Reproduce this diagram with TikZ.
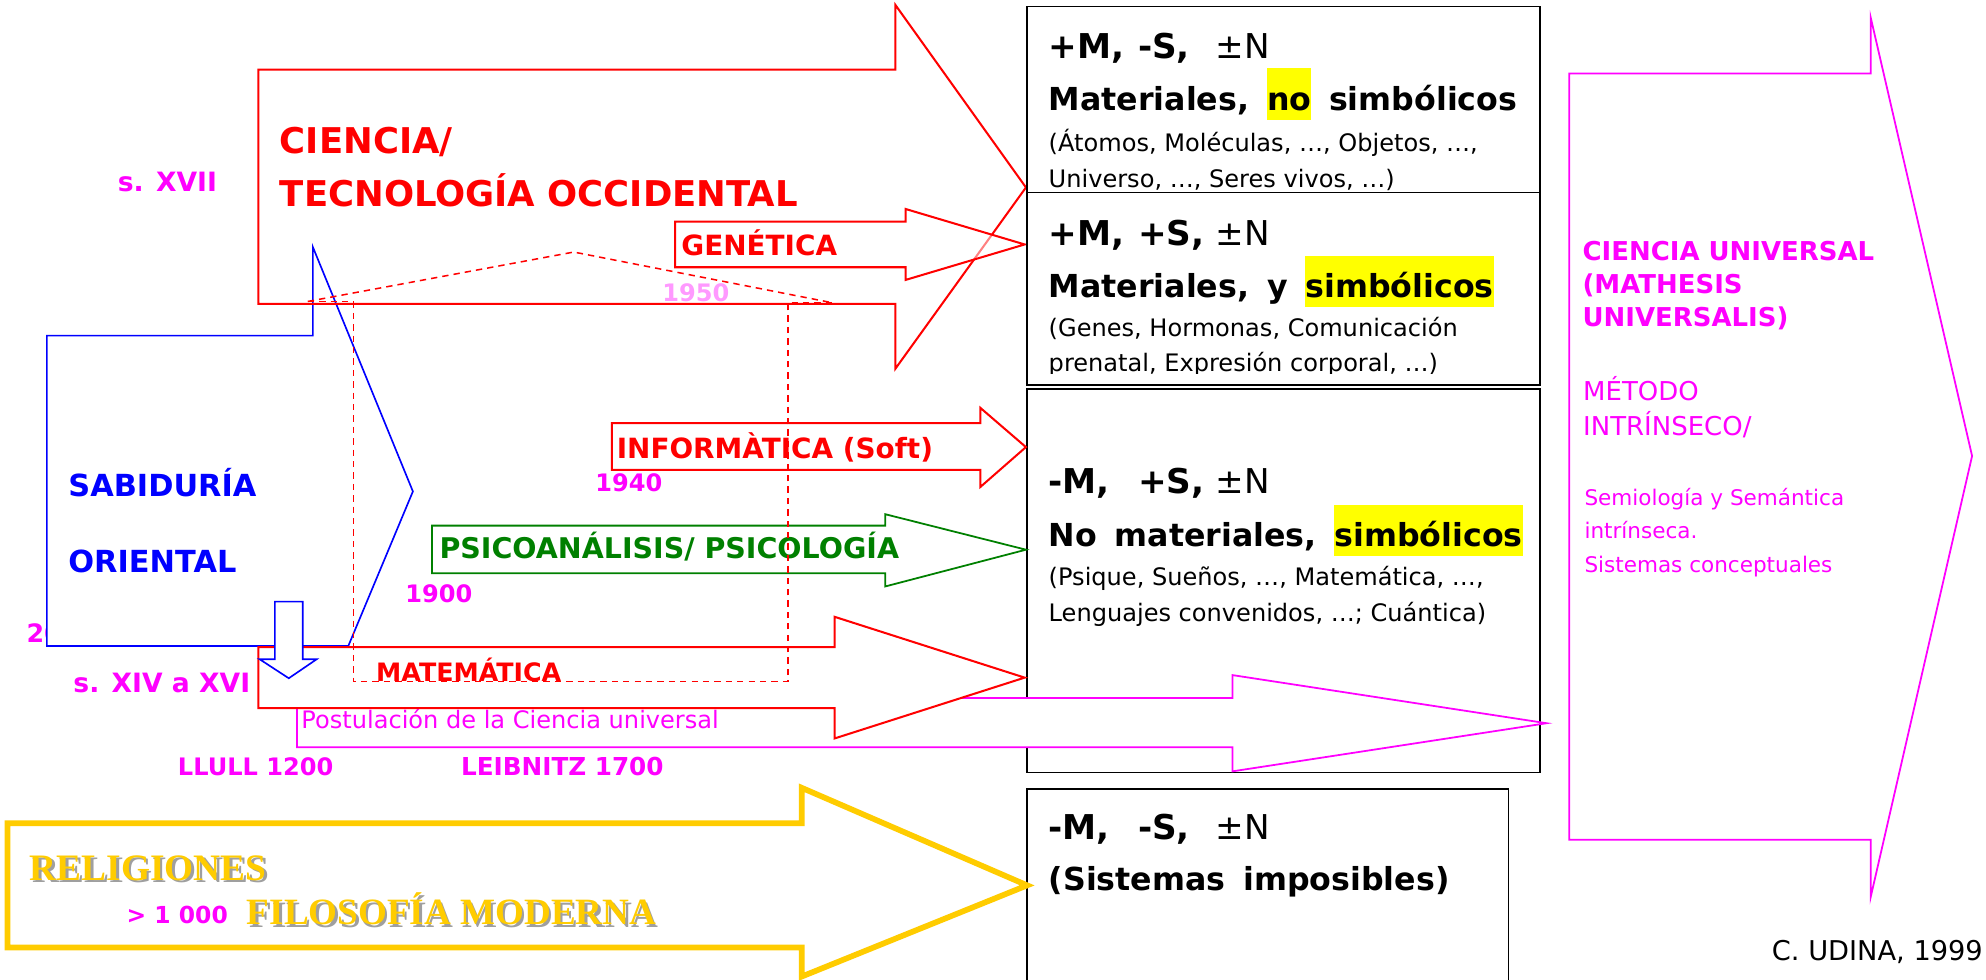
\documentclass[tikz,border=0pt]{standalone}
\usepackage{fontspec}
\setmainfont{DejaVu Sans}
\newfontfamily\relfont{Liberation Serif}
\definecolor{myred}{HTML}{FF0000}
\definecolor{myblue}{HTML}{0000FF}
\definecolor{mymag}{HTML}{FF00FF}
\definecolor{mygreen}{HTML}{008000}
\definecolor{myyellow}{HTML}{FFCC00}
\definecolor{hl}{HTML}{FFFF00}
\definecolor{pinkish}{HTML}{FF99FF}
\newcommand{\fs}[1]{\fontsize{#1}{#1}\selectfont}
% block arrow: body left, head base x, tip x, body top, body bottom, head top, head bottom, tip y
\newcommand{\barrow}[9][]{\draw[#1] (#2,#5)--(#3,#5)--(#3,#7)--(#4,#9)--(#3,#8)--(#3,#6)--(#2,#6)--cycle;}
\newcommand{\hlw}[1]{{\setlength{\fboxsep}{0pt}\colorbox{hl}{\rule[-7.5pt]{0pt}{40.5pt}#1}}}
\newcommand{\mline}[3]{\makebox[70.5pt][l]{\bfseries #1}\makebox[61.5pt][l]{\bfseries #2}#3}
\tikzset{
  lbl/.style={anchor=base west, inner sep=0pt, outer sep=0pt},
  redline/.style={draw=myred, line width=1.6pt},
  blueline/.style={draw=myblue, line width=1.3pt},
  magline/.style={draw=mymag, line width=1.4pt},
  greenline/.style={draw=mygreen, line width=1.4pt},
  yelline/.style={draw=myyellow, line width=4.5pt},
  boxline/.style={draw=black, line width=1.3pt, fill=white},
  dashline/.style={draw=myred, line width=1.2pt, dash pattern=on 5pt off 4pt},
  big/.style={font=\fs{27}},
  mid/.style={font=\fs{25}\bfseries},
  small/.style={font=\fs{19}}
}
\begin{document}
\begin{tikzpicture}[x=1pt,y=-1pt]
\useasboundingbox (0,0) rectangle (1568,773);
\fill[white] (0,0) rectangle (1568,773);

% partly hidden year under the blue arrow
\node[lbl, text=mymag, font=\fs{20}\bfseries] (y20) at (21,507) {20};

% Sabiduria oriental (blue)
\draw[blueline, fill=white] (37,265)--(247,265)--(247,195)--(326,388)--(275,510)--(37,510)--cycle;
\node[lbl, text=myblue, font=\fs{24}\bfseries] (sab) at (54,392) {SABIDURÍA};
\node[lbl, text=myblue, font=\fs{24}\bfseries] (ori) at (54,452) {ORIENTAL};

% Ciencia / tecnologia occidental
\barrow[redline]{204}{707}{810}{55}{240}{4}{291}{148}
\node[lbl, text=myred, font=\fs{28}\bfseries] (cien) at (221,121) {CIENCIA/};
\node[lbl, text=myred, font=\fs{28}\bfseries] (tec) at (221,163) {TECNOLOGÍA OCCIDENTAL};
\node[lbl, text=mymag, font=\fs{21}\bfseries] (s17) at (93,151) {s. XVII};

% Genetica
\barrow[redline, fill=white, fill opacity=0.5]{533}{715}{809}{175}{211}{165}{221}{193}
\node[lbl, text=myred, font=\fs{22}\bfseries] (gen) at (538,202) {GENÉTICA};
\node[lbl, text=pinkish, font=\fs{19}\bfseries] (y1950) at (523,238) {1950};

% boxes
\draw[boxline] (811,5) rectangle (1216,152);
\node[lbl, big] (b1a) at (828,46) {\mline{+M,}{-S,}{±N}};
\node[lbl, mid] (b1b) at (828,87) {Materiales,\hspace{14pt}\hlw{no}\hspace{14pt}simbólicos};
\node[lbl, small] (b1c) at (828,120) {(Átomos, Moléculas, …, Objetos, …,};
\node[lbl, small] (b1d) at (828,148) {Universo, …, Seres vivos, …)};

\draw[boxline] (811,152) rectangle (1216,304);
\node[lbl, big] (b2a) at (828,194) {\mline{+M,}{+S,}{±N}};
\node[lbl, mid] (b2b) at (828,235) {Materiales,\hspace{14pt}y\hspace{14pt}\hlw{simbólicos}};
\node[lbl, small] (b2c) at (828,266) {(Genes, Hormonas, Comunicación};
\begin{scope}
\clip (811,152) rectangle (1216,295);
\node[lbl, small] (b2d) at (828,293.5) {prenatal, Expresión corporal, …)};
\end{scope}

\draw[boxline] (811,307) rectangle (1216,610);
\node[lbl, big] (b3a) at (828,390) {\mline{-M,}{+S,}{±N}};
\node[lbl, mid] (b3b) at (828,431.7) {No\hspace{14pt}materiales,\hspace{14pt}\hlw{simbólicos}};
\node[lbl, small] (b3c) at (828,462.6) {(Psique, Sueños, …, Matemática, …,};
\node[lbl, small] (b3d) at (828,491) {Lenguajes convenidos, …; Cuántica)};

\fill[white] (811,623) rectangle (1191,773);
\draw[draw=black, line width=1.3pt] (811,780)--(811,623)--(1191,623)--(1191,780);
\node[lbl, big] (b4a) at (828,663) {\mline{-M,}{-S,}{±N}};
\node[lbl, mid] (b4b) at (828,703) {(Sistemas\hspace{14pt}imposibles)};

% Postulacion de la Ciencia universal (magenta)
\barrow[magline, fill=white]{234.5}{973}{1221}{551}{590}{533}{609}{571}
\node[lbl, text=mymag, font=\fs{19}] (post) at (238,575) {Postulación de la Ciencia universal};

% Matematica (red)
\barrow[redline, fill=white]{204}{659}{809}{511}{559}{487}{583}{535}
\node[lbl, text=myred, font=\fs{20}\bfseries] (mat) at (297,538) {MATEMÁTICA};
\node[lbl, text=mymag, font=\fs{21}\bfseries] (s14) at (58,547) {s. XIV a XVI};

% Informatica
\barrow[redline]{483}{774}{810}{334}{371}{322}{384.5}{353}
\node[lbl, text=myred, font=\fs{22}\bfseries] (inf) at (487,362) {INFORMÀTICA (Soft)};
\node[lbl, text=mymag, font=\fs{19}\bfseries] (y1940) at (470,388) {1940};

% Psicoanalisis
\barrow[greenline]{341}{699}{810}{415}{452.6}{406}{463}{434}
\node[lbl, text=mygreen, font=\fs{22.5}\bfseries] (psi) at (347,441) {PSICOANÁLISIS/ PSICOLOGÍA};
\node[lbl, text=mymag, font=\fs{19}\bfseries] (y1900) at (320,476) {1900};

% small blue down arrow
\draw[blueline, fill=white] (217,475)--(239,475)--(239,520.5)--(250,520.5)--(228,535.5)--(205,520.5)--(217,520.5)--cycle;

% dashed house
\draw[dashline] (243,238)--(453,199)--(657,239);
\draw[dashline] (243,238)--(279,238)--(279,538)--(622,538)--(622,239)--(657,239);

% names and dates
\node[lbl, text=mymag, font=\fs{19}\bfseries] (llull) at (140.5,612) {LLULL 1200};
\node[lbl, text=mymag, font=\fs{19.5}\bfseries] (leib) at (364,612) {LEIBNITZ 1700};

% Religiones / filosofia moderna (yellow)
\barrow[yelline]{6}{633}{811}{650}{748}{622}{771}{699}
\node[lbl, text=gray!75, font=\fs{29.5}\relfont\bfseries] (relsh) at (25.6,697) {RELIGIONES};
\node[lbl, text=myyellow, font=\fs{29.5}\relfont\bfseries] (rel) at (23.6,695) {RELIGIONES};
\node[lbl, text=mymag, font=\fs{18.5}\bfseries] (y1000) at (100,729) {> 1 000};
\node[lbl, text=gray!75, font=\fs{29.3}\relfont\bfseries] (filsh) at (197,732) {FILOSOFÍA MODERNA};
\node[lbl, text=myyellow, font=\fs{29.3}\relfont\bfseries] (fil) at (195,730) {FILOSOFÍA MODERNA};

% Ciencia universal (right)
\barrow[magline]{1239}{1477}{1557}{58}{663}{14}{708}{360}
\node[lbl, text=mymag, font=\fs{20.5}\bfseries] (cu1) at (1249.5,206) {CIENCIA UNIVERSAL};
\node[lbl, text=mymag, font=\fs{20.5}\bfseries] (cu2) at (1249.5,232) {(MATHESIS};
\node[lbl, text=mymag, font=\fs{20.5}\bfseries] (cu3) at (1249.5,258) {UNIVERSALIS)};
\node[lbl, text=mymag, font=\fs{20.5}] (met1) at (1250,316) {MÉTODO};
\node[lbl, text=mymag, font=\fs{20.5}] (met2) at (1250,344) {INTRÍNSECO/};
\node[lbl, text=mymag, font=\fs{17}] (sem1) at (1251,399) {Semiología y Semántica};
\node[lbl, text=mymag, font=\fs{17}] (sem2) at (1251,425.5) {intrínseca.};
\node[lbl, text=mymag, font=\fs{17}] (sem3) at (1251,452) {Sistemas conceptuales};

\node[lbl, text=black, font=\fs{21.5}] (auth) at (1399,758) {C. UDINA, 1999};
\end{tikzpicture}
\end{document}
